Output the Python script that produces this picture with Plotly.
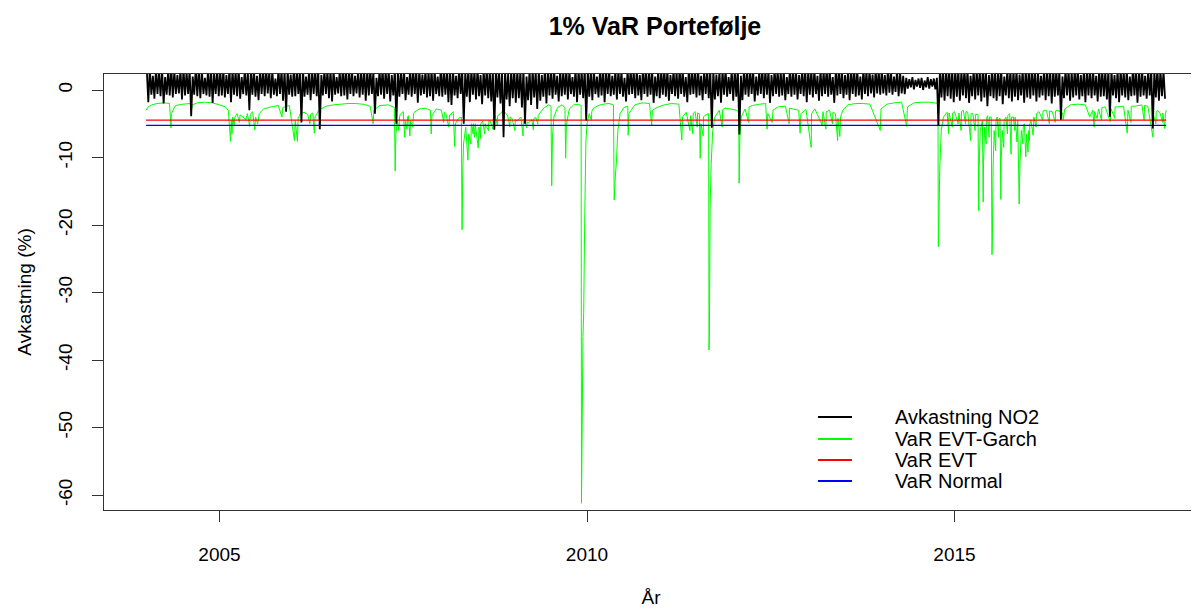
import plotly.graph_objects as go

# ---------------- data ----------------
# Daily returns NO2 summarised as half-monthly high / low extremes (%), 2004.0 -> 2017.875
ret_high = [
    3.0, 3.2, 2.1, 3.0, 2.8, 3.1, 1.9, 3.0, 3.3, 2.9, 2.2, 3.0, 3.1, 2.7, 3.0, 2.0, 3.2, 3.0, 2.9, 1.8, 3.0, 3.1, 2.6, 3.0,
    2.9, 3.0, 2.2, 3.1, 3.0, 2.8, 3.2, 1.9, 3.0, 2.7, 3.0, 3.1, 2.1, 3.0, 2.9, 3.2, 2.8, 3.0, 1.7, 3.1, 3.0, 2.9, 3.0, 2.3,
    3.1, 2.9, 3.0, 3.2, 2.0, 3.0, 2.8, 3.1, 3.0, 2.2, 3.0, 2.9, 3.1, 3.0, 1.9, 2.8, 3.2, 3.0, 2.9, 3.1, 2.1, 3.0, 2.8, 3.0,
    3.0, 3.1, 2.8, 1.8, 3.0, 3.2, 2.9, 3.0, 2.2, 3.1, 3.0, 2.7, 3.0, 1.9, 3.2, 3.0, 2.9, 3.1, 2.3, 3.0, 2.8, 3.1, 3.0, 2.0,
    3.2, 3.0, 2.9, 3.1, 3.0, 2.1, 3.2, 3.0, 2.8, 3.1, 3.0, 2.9, 3.2, 2.2, 3.0, 3.1, 2.9, 3.0, 3.2, 2.8, 3.0, 3.1, 2.4, 3.0,
    3.1, 3.0, 2.9, 3.2, 2.0, 3.0, 3.1, 2.8, 3.0, 2.2, 3.1, 3.0, 2.9, 3.2, 2.1, 3.0, 2.8, 3.1, 3.0, 1.9, 3.2, 3.0, 2.9, 3.1,
    3.0, 2.8, 3.1, 2.0, 3.0, 3.2, 2.9, 3.0, 2.1, 3.1, 3.0, 2.8, 1.8, 3.0, 3.1, 2.9, 3.0, 2.2, 3.2, 3.0, 2.8, 3.1, 2.0, 3.0,
    2.9, 3.1, 3.0, 2.2, 3.0, 2.8, 3.2, 3.0, 1.9, 3.1, 2.9, 3.0, 3.2, 2.1, 3.0, 2.9, 3.1, 3.0, 2.3, 2.8, 3.0, 3.1, 1.9, 3.0,
    3.0, 3.2, 2.1, 3.0, 2.9, 3.1, 3.0, 2.0, 2.8, 3.2, 3.0, 2.9, 2.2, 3.1, 3.0, 2.8, 3.0, 1.9, 3.1, 3.0, 2.9, 2.2, 3.0, 3.1,
    2.9, 3.0, 3.1, 2.1, 3.0, 2.8, 3.2, 3.0, 1.9, 3.0, 3.1, 2.8, 2.2, 3.0, 2.9, 3.1, 3.0, 2.0, 3.2, 2.8, 3.0, 2.3, 3.1, 2.9,
    3.0, 2.2, 3.1, 2.9, 2.0, 3.0, 2.6, 2.1, 1.8, 1.6, 1.9, 1.5, 1.7, 1.8, 1.4, 1.9, 1.6, 1.7, 1.8, 3.1, 3.0, 2.9, 3.2, 3.0,
    3.1, 3.0, 2.8, 3.2, 3.0, 2.1, 3.1, 3.0, 2.9, 3.2, 3.0, 2.2, 3.1, 3.0, 2.8, 3.2, 2.0, 3.0, 3.1, 2.9, 3.0, 2.3, 3.1, 3.0,
    3.0, 3.2, 2.9, 3.0, 2.1, 3.1, 3.0, 2.8, 3.2, 3.0, 2.9, 2.0, 3.1, 3.0, 2.8, 3.0, 3.2, 2.2, 3.0, 3.1, 2.9, 3.0, 2.1, 3.2,
    3.0, 2.9, 3.1, 3.0, 2.2, 3.0, 3.1, 2.8, 3.0, 2.0, 3.2, 3.0, 2.9, 3.1, 2.1, 3.0, 3.0, 2.9, 3.2, 3.0, 2.8,
]
ret_low = [
    -1.8, -0.7, -1.3, -0.6, -0.9, -2.0, -0.7, -0.8, -1.1, -0.6, -0.5, -1.4, -0.8, -0.6, -3.9, -0.7, -0.9, -1.2, -0.6, -0.8, -1.0, -1.9, -0.6, -0.9,
    -0.8, -1.1, -0.6, -1.8, -0.7, -0.9, -1.3, -0.6, -0.8, -3.0, -0.7, -1.0, -1.5, -0.6, -0.9, -0.5, -1.2, -0.7, -0.9, -0.6, -1.6, -3.2, -0.7, -1.0,
    -0.9, -0.6, -4.8, -1.0, -0.7, -1.5, -0.6, -0.9, -5.8, -0.8, -0.6, -1.2, -1.7, -0.7, -0.5, -0.9, -0.8, -1.4, -0.6, -0.9, -0.5, -1.1, -0.7, -1.6,
    -0.8, -0.6, -3.5, -0.9, -0.7, -1.3, -0.6, -1.7, -0.8, -5.0, -1.0, -0.6, -1.5, -0.7, -1.0, -0.6, -1.9, -0.8, -0.6, -1.1, -0.9, -1.6, -0.6, -0.9,
    -1.0, -0.7, -1.8, -2.2, -0.8, -1.2, -0.6, -5.0, -1.0, -1.8, -0.7, -1.4, -0.9, -2.1, -0.8, -1.2, -1.7, -5.9, -1.1, -2.0, -7.0, -1.4, -2.4, -1.2,
    -1.9, -1.2, -2.6, -5.0, -1.5, -2.2, -1.1, -2.8, -1.6, -1.0, -2.0, -0.8, -1.3, -0.7, -1.7, -0.9, -0.7, -1.4, -0.6, -1.0, -1.8, -0.7, -1.2, -4.5,
    -1.0, -1.5, -0.6, -1.1, -0.8, -1.8, -0.6, -0.9, -0.7, -1.4, -0.6, -1.0, -1.7, -0.7, -0.6, -1.2, -0.8, -1.5, -0.6, -1.0, -0.7, -1.9, -0.9, -1.2,
    -0.7, -1.0, -1.6, -0.6, -0.9, -1.3, -0.6, -1.0, -1.8, -0.7, -0.6, -1.1, -0.8, -1.5, -0.6, -1.2, -5.6, -1.4, -0.9, -1.9, -0.7, -1.0, -0.6, -1.6,
    -1.0, -6.6, -1.5, -0.7, -1.0, -0.6, -1.7, -0.8, -0.6, -1.2, -0.7, -1.9, -0.9, -0.6, -1.0, -0.8, -1.5, -0.6, -1.0, -0.7, -1.4, -0.6, -0.9, -1.8,
    -0.7, -1.1, -0.6, -1.6, -0.9, -0.6, -1.0, -0.7, -1.9, -0.8, -0.6, -1.2, -0.7, -1.5, -0.6, -1.0, -0.8, -1.4, -0.6, -0.9, -0.5, -1.1, -0.5, -0.7,
    -0.5, -0.8, -0.4, -0.7, -0.3, -0.9, -0.5, -0.6, 0.2, 0.4, 0.1, 0.5, 0.3, 0.0, 0.4, 0.2, 0.5, 0.1, -5.2, -1.1, -1.6, -0.9, -1.3, -1.8,
    -1.0, -1.6, -0.8, -1.2, -1.9, -0.9, -1.4, -0.8, -1.7, -1.1, -2.4, -0.9, -1.2, -1.6, -0.9, -2.1, -0.8, -1.2, -1.7, -1.0, -1.5, -0.8, -1.9, -1.1,
    -1.3, -0.8, -1.7, -1.1, -0.8, -1.5, -0.9, -2.0, -1.0, -0.8, -4.4, -1.2, -0.8, -1.6, -1.1, -0.8, -1.4, -0.9, -1.8, -0.8, -1.2, -0.8, -1.7, -1.0,
    -0.9, -1.4, -4.0, -0.8, -1.2, -1.8, -0.8, -1.1, -1.5, -0.9, -0.8, -1.9, -1.0, -0.8, -1.3, -0.8, -5.7, -1.1, -1.6, -0.9, -1.3,
]

# VaR EVT-Garch (%): main course incl. large spikes, time in decimal years
green_t = [
    2004.00, 2004.03, 2004.08, 2004.15, 2004.25, 2004.32, 2004.34, 2004.345, 2004.40, 2004.50, 2004.60, 2004.70, 2004.80, 2004.90,
    2005.00, 2005.08, 2005.12, 2005.15, 2005.16, 2005.17, 2005.18, 2005.24, 2005.30, 2005.36, 2005.38, 2005.45, 2005.48, 2005.49,
    2005.52, 2005.54, 2005.60, 2005.70, 2005.80, 2005.85, 2005.86, 2005.95, 2006.02, 2006.03, 2006.06, 2006.07, 2006.10, 2006.15,
    2006.20, 2006.27, 2006.29, 2006.30, 2006.35, 2006.45, 2006.55, 2006.65, 2006.75, 2006.85, 2006.95, 2007.05, 2007.09, 2007.10,
    2007.18, 2007.30, 2007.38, 2007.39, 2007.40, 2007.42, 2007.46, 2007.50, 2007.52, 2007.53, 2007.57, 2007.59, 2007.60, 2007.65,
    2007.72, 2007.80, 2007.87, 2007.88, 2007.89, 2007.95, 2008.02, 2008.08, 2008.12, 2008.13, 2008.18, 2008.20, 2008.21, 2008.25,
    2008.29, 2008.30, 2008.31, 2008.32, 2008.35, 2008.38, 2008.39, 2008.43, 2008.47, 2008.48, 2008.52, 2008.53, 2008.58, 2008.63,
    2008.68, 2008.75, 2008.82, 2008.86, 2008.92, 2008.98, 2009.05, 2009.10, 2009.15, 2009.20, 2009.25, 2009.30, 2009.36, 2009.42,
    2009.48, 2009.51, 2009.52, 2009.53, 2009.55, 2009.60, 2009.66, 2009.70, 2009.71, 2009.72, 2009.76, 2009.82, 2009.88, 2009.92,
    2009.925, 2009.935, 2009.945, 2009.955, 2009.97, 2009.985, 2010.00, 2010.03, 2010.08, 2010.15, 2010.22, 2010.30, 2010.36,
    2010.37, 2010.385, 2010.40, 2010.42, 2010.45, 2010.50, 2010.555, 2010.56, 2010.57, 2010.65, 2010.75, 2010.85, 2010.88, 2010.89,
    2010.95, 2011.05, 2011.15, 2011.25, 2011.29, 2011.30, 2011.35, 2011.40, 2011.41, 2011.47, 2011.53, 2011.54, 2011.55, 2011.60,
    2011.655, 2011.66, 2011.665, 2011.675, 2011.69, 2011.71, 2011.74, 2011.80, 2011.88, 2011.95, 2012.03, 2012.065, 2012.07, 2012.08,
    2012.10, 2012.15, 2012.25, 2012.35, 2012.43, 2012.45, 2012.46, 2012.52, 2012.53, 2012.60, 2012.70, 2012.80, 2012.88, 2012.90,
    2012.91, 2012.98, 2013.10, 2013.20, 2013.21, 2013.30, 2013.38, 2013.44, 2013.45, 2013.48, 2013.55, 2013.65, 2013.75, 2013.85,
    2013.99, 2014.00, 2014.08, 2014.18, 2014.28, 2014.35, 2014.36, 2014.45, 2014.55, 2014.65, 2014.72, 2014.775, 2014.78, 2014.785,
    2014.80, 2014.82, 2014.85, 2014.90, 2015.00, 2015.05, 2015.06, 2015.12, 2015.18, 2015.25, 2015.32, 2015.33, 2015.335, 2015.35,
    2015.38, 2015.39, 2015.395, 2015.41, 2015.45, 2015.50, 2015.51, 2015.515, 2015.525, 2015.54, 2015.58, 2015.62, 2015.63, 2015.635,
    2015.65, 2015.70, 2015.75, 2015.80, 2015.85, 2015.86, 2015.88, 2015.89, 2015.91, 2015.95, 2015.97, 2015.98, 2016.00, 2016.01,
    2016.04, 2016.07, 2016.08, 2016.15, 2016.25, 2016.33, 2016.40, 2016.47, 2016.48, 2016.50, 2016.58, 2016.68, 2016.78, 2016.84,
    2016.88, 2016.94, 2016.96, 2017.05, 2017.12, 2017.13, 2017.22, 2017.30, 2017.35, 2017.36, 2017.45, 2017.55, 2017.63, 2017.70,
    2017.71, 2017.76, 2017.80, 2017.86, 2017.87, 2017.88,
]
green_v = [
    -3.0, -2.5, -2.2, -2.0, -1.9, -2.0, -5.6, -3.5, -2.3, -2.1, -2.0, -1.9, -1.8, -1.9,
    -2.2, -2.5, -3.0, -7.6, -4.5, -6.5, -4.0, -3.5, -3.8, -4.4, -3.5, -3.2, -5.9, -4.0,
    -5.0, -3.5, -2.8, -2.5, -2.3, -4.0, -2.6, -2.3, -7.5, -4.5, -7.6, -4.2, -3.5, -3.3,
    -3.6, -3.4, -6.4, -4.0, -3.0, -2.4, -2.2, -2.1, -2.0, -2.0, -2.1, -2.4, -5.0, -3.0,
    -2.3, -2.2, -2.6, -12.0, -6.5, -4.5, -3.6, -3.2, -7.0, -4.5, -3.8, -6.8, -4.5, -3.3,
    -2.8, -2.7, -3.0, -6.5, -3.8, -2.8, -3.0, -3.5, -5.5, -3.8, -3.2, -8.4, -5.0, -4.2,
    -4.0, -20.7, -12.0, -8.0, -5.5, -10.4, -6.5, -5.0, -7.0, -5.0, -8.6, -5.5, -4.6, -5.4,
    -4.5, -3.8, -3.5, -3.0, -3.8, -4.2, -4.6, -4.0, -4.5, -4.9, -4.4, -4.0, -3.4, -2.6,
    -2.2, -2.4, -14.2, -7.0, -4.0, -2.6, -2.2, -2.6, -10.1, -5.0, -2.8, -2.2, -2.1, -2.3,
    -61.2, -48.9, -36.5, -33.0, -18.0, -7.7, -5.0, -3.5, -2.8, -2.3, -2.1, -2.0, -2.2,
    -16.3, -12.9, -10.7, -6.0, -3.5, -2.6, -2.4, -6.7, -3.5, -2.2, -1.9, -2.0, -5.2, -3.0,
    -2.6, -2.2, -2.0, -2.1, -7.4, -4.0, -3.3, -6.0, -3.8, -3.2, -3.6, -10.1, -5.0, -3.8,
    -3.5, -38.5, -36.7, -17.3, -10.9, -6.0, -4.0, -3.0, -2.7, -2.8, -3.0, -3.2, -13.8, -7.0,
    -4.0, -2.8, -2.3, -2.1, -2.0, -5.8, -3.5, -4.8, -3.0, -2.5, -2.4, -2.8, -3.0, -6.4,
    -3.5, -2.9, -2.8, -5.2, -3.2, -3.0, -3.5, -6.9, -4.0, -3.0, -2.2, -2.0, -2.0, -2.1,
    -6.0, -2.8, -2.1, -1.9, -1.8, -5.4, -2.5, -1.9, -1.8, -1.8, -1.9, -2.0, -23.2, -21.2,
    -11.4, -6.0, -4.0, -3.3, -3.2, -5.0, -3.4, -3.0, -3.3, -3.5, -3.6, -17.9, -11.6, -6.0,
    -4.5, -16.6, -10.9, -5.5, -3.8, -4.0, -24.4, -22.5, -11.4, -6.0, -4.0, -4.2, -16.2, -10.7,
    -6.0, -4.0, -3.5, -4.0, -7.7, -4.5, -16.9, -11.1, -6.0, -5.0, -9.9, -6.5, -9.2, -6.0,
    -4.5, -6.7, -4.0, -3.2, -3.0, -3.2, -3.0, -3.4, -4.4, -2.8, -2.2, -2.1, -2.2, -4.0,
    -3.0, -4.2, -2.8, -2.5, -4.7, -2.8, -2.5, -2.4, -6.4, -3.0, -2.4, -2.2, -2.4, -7.0,
    -3.8, -3.0, -3.5, -5.7, -3.5, -3.0,
]
# VaR EVT-Garch: smaller dips (dip value, then value a day or two later)
minor_t = [
    2004.62, 2004.63, 2005.20, 2005.21, 2005.27, 2005.28, 2005.41, 2005.42, 2006.23, 2006.24,
    2007.44, 2007.45, 2007.55, 2007.56, 2007.63, 2007.64, 2008.05, 2008.06, 2008.42, 2008.425,
    2008.45, 2008.455, 2008.55, 2008.555, 2008.61, 2008.615, 2008.66, 2008.665, 2008.72, 2008.725,
    2008.78, 2008.785, 2008.95, 2008.955, 2009.02, 2009.025, 2009.13, 2009.135, 2009.18, 2009.185,
    2009.27, 2009.275, 2009.33, 2009.335, 2010.06, 2010.065, 2011.44, 2011.445, 2011.50, 2011.505,
    2011.58, 2011.585, 2011.84, 2011.845, 2012.20, 2012.205, 2012.75, 2012.755, 2013.05, 2013.055,
    2013.25, 2013.255, 2013.34, 2013.345, 2013.41, 2013.415, 2014.92, 2014.925, 2014.97, 2014.975,
    2015.09, 2015.095, 2015.15, 2015.155, 2015.22, 2015.225, 2015.28, 2015.285, 2015.43, 2015.435,
    2015.47, 2015.475, 2015.56, 2015.565, 2015.60, 2015.605, 2015.67, 2015.675, 2015.72, 2015.725,
    2015.77, 2015.775, 2015.82, 2015.825, 2015.93, 2015.935, 2016.02, 2016.025, 2016.11, 2016.115,
    2016.20, 2016.205, 2016.29, 2016.295, 2016.37, 2016.375, 2016.90, 2016.905, 2017.00, 2017.005,
    2017.18, 2017.185, 2017.40, 2017.405, 2017.58, 2017.585, 2017.74, 2017.745, 2017.83, 2017.835,
]
minor_v = [
    -3.0, -2.2, -5.2, -4.0, -4.8, -3.7, -5.4, -3.6, -5.0, -3.6,
    -6.0, -4.0, -5.8, -4.0, -5.5, -3.5, -4.8, -3.3, -8.0, -5.5,
    -6.5, -5.0, -7.2, -5.0, -6.5, -5.0, -6.0, -4.6, -5.8, -4.2,
    -5.2, -3.8, -5.5, -4.0, -6.0, -4.4, -6.8, -4.3, -5.6, -4.7,
    -5.9, -4.3, -5.0, -3.8, -4.5, -3.2, -6.5, -3.5, -5.5, -3.4,
    -6.8, -4.0, -5.5, -2.9, -4.8, -2.5, -5.0, -2.7, -8.5, -3.5,
    -5.8, -3.2, -5.0, -3.3, -7.5, -4.2, -6.5, -3.4, -5.5, -3.4,
    -6.0, -3.2, -5.0, -3.2, -7.5, -3.5, -6.0, -3.6, -8.0, -4.2,
    -7.0, -4.0, -9.0, -4.5, -7.0, -4.3, -8.5, -4.5, -6.5, -3.8,
    -9.5, -4.0, -6.0, -4.0, -8.0, -5.5, -7.5, -5.0, -5.5, -3.5,
    -4.5, -3.1, -5.0, -3.1, -4.8, -3.1, -5.5, -3.2, -4.5, -2.6,
    -4.2, -2.5, -4.8, -2.4, -4.5, -2.3, -5.0, -3.2, -4.8, -3.4,
]

var_evt = -4.45      # VaR EVT (%)
var_normal = -5.25   # VaR Normal (%)

series_names = ["Avkastning NO2", "VaR EVT-Garch", "VaR EVT", "VaR Normal"]
series_colors = ["#000000", "#00FF00", "#FF0000", "#0000FF"]
x_ticks = [2005, 2010, 2015]
y_ticks = [0, -10, -20, -30, -40, -50, -60]

# ---------------- build series ----------------
ret_t, ret_v = [], []
for i, (h, l) in enumerate(zip(ret_high, ret_low)):
    t0 = 2004 + i / 24.0
    ret_t += [t0 + 0.25 / 24.0, t0 + 0.75 / 24.0]
    ret_v += [h, l]

garch = sorted(zip(green_t + minor_t, green_v + minor_v))
garch_t = [p[0] for p in garch]
garch_v = [p[1] for p in garch]
t_start, t_end = green_t[0], green_t[-1]

# ---------------- layout geometry (page pixels; body has an 8px margin) ----------------
OFF = 8
W, H = 1190, 600
ML, MR, MT, MB = 96, 0, 66, 98
FONT = "Liberation Sans, Arial, Helvetica, sans-serif"


def px_x(px):
    return (px - OFF - ML) / (W - ML - MR)


def px_y(py):
    return (H - MB - (py - OFF)) / (H - MT - MB)


x_left = 2010 - (587 - 104) / 73.5
x_right = 2010 + (1198 - 587) / 73.5

fig = go.Figure()
fig.add_trace(go.Scatter(x=garch_t, y=garch_v, mode="lines", name=series_names[1],
                         line=dict(color=series_colors[1], width=1, simplify=False),
                         showlegend=False, hoverinfo="skip"))
fig.add_trace(go.Scatter(x=[t_start, t_end], y=[var_evt, var_evt], mode="lines", name=series_names[2],
                         line=dict(color=series_colors[2], width=1.3), showlegend=False, hoverinfo="skip"))
fig.add_trace(go.Scatter(x=[t_start, t_end], y=[var_normal, var_normal], mode="lines", name=series_names[3],
                         line=dict(color=series_colors[3], width=1.3), showlegend=False, hoverinfo="skip"))
fig.add_trace(go.Scatter(x=ret_t, y=ret_v, mode="lines", name=series_names[0],
                         line=dict(color=series_colors[0], width=1.8, simplify=False),
                         showlegend=False, hoverinfo="skip"))

# legend drawn like R's legend(): key line + label
leg_rows = [417, 439, 460, 481]
shapes, annotations = [], []
for name, col, py in zip(series_names, series_colors, leg_rows):
    shapes.append(dict(type="line", xref="paper", yref="paper",
                       x0=px_x(818), x1=px_x(852), y0=px_y(py), y1=px_y(py),
                       line=dict(color=col, width=2)))
    annotations.append(dict(xref="paper", yref="paper", x=px_x(893), y=px_y(py),
                            text=name, showarrow=False, xanchor="left", yanchor="middle",
                            font=dict(family=FONT, size=20, color="#000000")))

fig.update_layout(
    width=W, height=H,
    margin=dict(l=ML, r=MR, t=MT, b=MB),
    paper_bgcolor="white", plot_bgcolor="white",
    showlegend=False,
    title=dict(text="1% VaR Portefølje", xref="container", yref="container",
               x=(655 - OFF) / W, y=1 - (26 - OFF) / H, xanchor="center", yanchor="middle",
               font=dict(family=FONT, size=25, color="#000000", weight="bold")),
    font=dict(family=FONT, size=19, color="#000000"),
    shapes=shapes, annotations=annotations,
)
fig.update_xaxes(
    range=[x_left, x_right], tickmode="array", tickvals=x_ticks,
    ticktext=[str(v) for v in x_ticks],
    ticks="outside", ticklen=11, tickwidth=1, tickcolor="#333333",
    showline=True, mirror=True, linecolor="#333333", linewidth=1,
    showgrid=False, zeroline=False, ticklabelstandoff=16,
    title=dict(text="År", standoff=28, font=dict(family=FONT, size=19)),
)
fig.update_yaxes(
    range=[-62.2, 2.37], tickmode="array", tickvals=y_ticks,
    ticktext=[str(v) for v in y_ticks], tickangle=-90,
    ticks="outside", ticklen=11, tickwidth=1, tickcolor="#333333",
    showline=True, mirror=False, linecolor="#333333", linewidth=1,
    showgrid=False, zeroline=False, ticklabelstandoff=12,
    title=dict(text="Avkastning (%)", standoff=18, font=dict(family=FONT, size=19)),
)

fig.write_html("out.html")
